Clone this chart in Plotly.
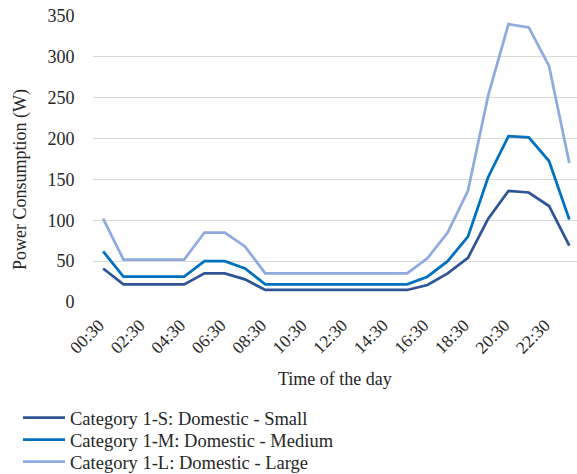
import plotly.graph_objects as go

times = [f"{h:02d}:30" for h in range(24)]
tick_labels = [t for i, t in enumerate(times) if i % 2 == 0]

small = [41, 21.6, 21.6, 21.6, 21.6, 35, 35, 27.7, 14.7, 14.7, 14.7, 14.7, 14.7, 14.7, 14.7, 14.7,
         20.8, 35, 54, 102, 136, 134, 117.5, 69]
medium = [62, 31, 31, 31, 31, 50, 50, 41, 21.6, 21.6, 21.6, 21.6, 21.6, 21.6, 21.6, 21.6,
          31, 50, 80, 153, 203, 201.5, 172.5, 101]
large = [102, 52, 52, 52, 52, 85, 85, 68, 35, 35, 35, 35, 35, 35, 35, 35,
         53.5, 85, 136, 253, 340, 336, 289, 170]

names = ["Category 1-S: Domestic - Small", "Category 1-M: Domestic - Medium", "Category 1-L: Domestic - Large"]
colors = ["#2F5597", "#0070C0", "#8FAADC"]
legend_ids = ["legend", "legend2", "legend3"]
legend_y = [-0.4056, -0.4825, -0.5594]

font = "Liberation Serif"
txt = "#262626"
fig = go.Figure()
xs = list(range(len(times)))
for vals, name, col, lid in zip([small, medium, large], names, colors, legend_ids):
    fig.add_trace(go.Scatter(x=xs, y=vals, mode="lines", name=name, legend=lid,
                             line=dict(color=col, width=2.75), cliponaxis=False))

leg_common = dict(x=-0.155, xanchor="left", yanchor="middle", font=dict(family=font, size=18.5, color=txt),
                  itemwidth=42, bgcolor="rgba(0,0,0,0)", borderwidth=0)

fig.update_layout(
    width=577, height=474,
    margin=dict(l=93, r=0, t=16, b=172, autoexpand=False),
    plot_bgcolor="white", paper_bgcolor="white",
    font=dict(family=font, size=18, color=txt),
    showlegend=True,
    legend=dict(y=legend_y[0], **leg_common),
    legend2=dict(y=legend_y[1], **leg_common),
    legend3=dict(y=legend_y[2], **leg_common),
    xaxis=dict(range=[-0.5, 23.38], tickmode="array", tickvals=xs[::2], ticktext=tick_labels,
               tickangle=-45, showgrid=False, zeroline=False, showline=False,
               ticks="outside", ticklen=5, tickcolor="rgba(0,0,0,0)", ticklabelshift=-4,
               tickfont=dict(family=font, size=17.5, color=txt)),
    yaxis=dict(range=[0, 350], dtick=50, showgrid=True, gridcolor="#D9D9D9", gridwidth=1,
               zeroline=False, showline=False, ticks="outside", ticklen=14, tickcolor="rgba(0,0,0,0)",
               ticklabeloverflow="allow",
               tickfont=dict(family=font, size=18, color=txt)),
    annotations=[
        dict(text="Power Consumption (W)", xref="paper", yref="paper", x=-0.151, y=0.43,
             xanchor="center", yanchor="middle", textangle=-90, showarrow=False,
             font=dict(family=font, size=18, color=txt)),
        dict(text="Time of the day", xref="paper", yref="paper", x=0.5, y=-0.269,
             xanchor="center", yanchor="middle", showarrow=False,
             font=dict(family=font, size=18, color=txt)),
    ],
)
fig.write_html("out.html", config={"displayModeBar": False},
               post_script="document.body.style.margin='0';document.body.style.overflow='hidden';")
